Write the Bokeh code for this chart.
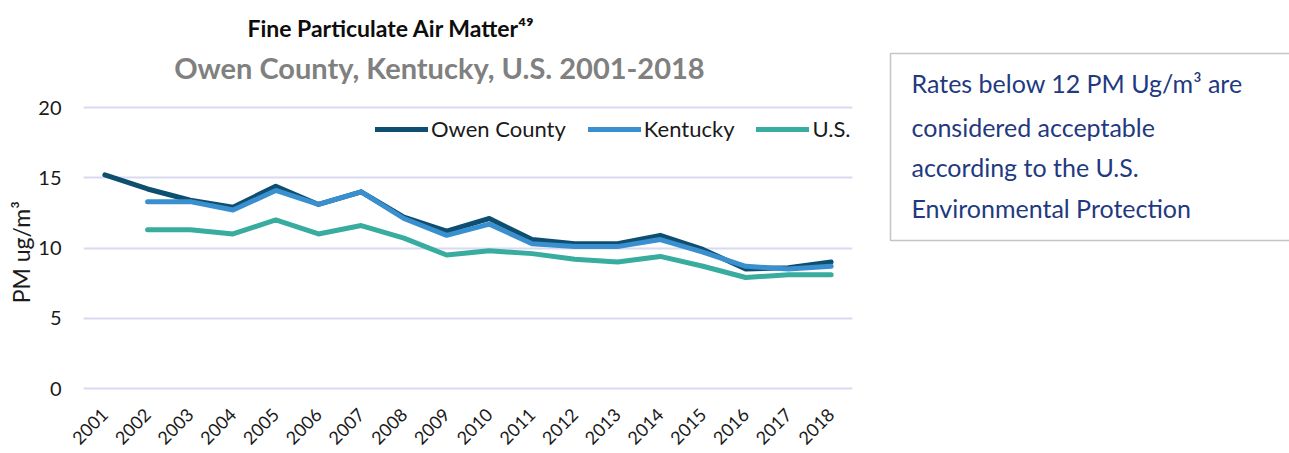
import numpy as np
from bokeh.plotting import figure
from bokeh.models import (FactorRange, Range1d, FixedTicker, Label,
                          Legend, LegendItem, ColumnDataSource, BoxAnnotation)
from bokeh.layouts import row
from bokeh.embed import file_html
from bokeh.resources import INLINE

years = [str(y) for y in range(2001, 2019)]
owen = [15.2, 14.2, 13.4, 12.9, 14.4, 13.1, 14.0, 12.2, 11.2, 12.1, 10.6, 10.3, 10.3, 10.9, 9.9, 8.5, 8.6, 9.0]
kentucky = [np.nan, 13.3, 13.3, 12.7, 14.1, 13.1, 14.0, 12.1, 10.9, 11.7, 10.3, 10.1, 10.1, 10.6, 9.7, 8.7, 8.5, 8.7]
us = [np.nan, 11.3, 11.3, 11.0, 12.0, 11.0, 11.6, 10.7, 9.5, 9.8, 9.6, 9.2, 9.0, 9.4, 8.7, 7.9, 8.1, 8.1]
y_ticks = [0, 5, 10, 15, 20]
series_names = ["Owen County", "Kentucky", "U.S."]
colors = ["#0E4E70", "#3A8FCE", "#38AD9F"]
title_text = "Fine Particulate Air Matter⁴⁹"
subtitle_text = "Owen County, Kentucky, U.S. 2001-2018"
y_title = "PM ug/m³"
box_lines = ["Rates below 12 PM Ug/m³ are", "considered acceptable",
             "according to the U.S.", "Environmental Protection"]

FONT = "Lato"
Y_LO, Y_HI = -0.142, 26.904   # frame spans from just below 0 up into the title area
H = 453

src = ColumnDataSource(dict(year=years, owen=np.array(owen), kentucky=np.array(kentucky), us=np.array(us)))

p = figure(x_range=FactorRange(*years, range_padding=0), y_range=Range1d(Y_LO, Y_HI),
           width=880, height=H, output_backend="svg", toolbar_location=None,
           min_border_left=83, min_border_right=28, min_border_top=10, min_border_bottom=63)
p.outline_line_color = None
p.background_fill_color = "white"

renderers = []
for col, c in zip(["owen", "kentucky", "us"], colors):
    r = p.line("year", col, source=src, line_color=c, line_width=5,
               line_cap="round", line_join="round")
    renderers.append(r)

p.xgrid.grid_line_color = None
p.ygrid.grid_line_color = "#D9D9F2"
p.ygrid.grid_line_width = 2
p.yaxis.ticker = FixedTicker(ticks=y_ticks)
p.yaxis.bounds = (0, 20)

for ax in (p.xaxis[0], p.yaxis[0]):
    ax.axis_line_color = None
    ax.major_tick_line_color = None
    ax.minor_tick_line_color = None
    ax.major_label_text_font = FONT
    ax.major_label_text_color = "#1a1a1a"

p.yaxis.major_label_text_font_size = "20px"
p.yaxis.major_label_standoff = 16
# trailing em spaces push the (centred, rotated) title down to the 0-20 band
p.yaxis.axis_label = y_title + "\u2003" * 6
p.yaxis.axis_label_text_font = FONT
p.yaxis.axis_label_text_font_style = "normal"
p.yaxis.axis_label_text_font_size = "23px"
p.yaxis.axis_label_text_color = "#1a1a1a"
p.yaxis.axis_label_standoff = 0

p.xaxis.major_label_text_font_size = "18px"
p.xaxis.major_label_orientation = np.pi / 4
p.xaxis.major_label_standoff = 15

legend = Legend(items=[LegendItem(label=n, renderers=[r]) for n, r in zip(series_names, renderers)],
                orientation="horizontal", location=(292, 248),
                glyph_width=53, glyph_height=20, label_standoff=3, spacing=22,
                label_text_font=FONT, label_text_font_size="22px", label_text_color="#1a1a1a",
                border_line_color=None, background_fill_alpha=0, padding=4, margin=0)
p.add_layout(legend)

p.add_layout(Label(x=7.2, y=25.65, text=title_text, text_align="center",
                   text_baseline="middle", text_font=FONT, text_font_style="bold",
                   text_font_size="23px", text_color="#0d0d0d"))
p.add_layout(Label(x=8.33, y=22.85, text=subtitle_text, text_align="center",
                   text_baseline="middle", text_font=FONT, text_font_style="bold",
                   text_font_size="29px", text_color="#808080"))

# note box: second figure sharing the same vertical frame
b = figure(x_range=Range1d(0, 409), y_range=Range1d(Y_LO, Y_HI), width=409, height=H,
           output_backend="svg", toolbar_location=None,
           min_border_left=0, min_border_right=0, min_border_top=10, min_border_bottom=63)
b.xaxis.visible = False
b.yaxis.visible = False
b.grid.visible = False
b.outline_line_color = None
b.add_layout(BoxAnnotation(left=10, right=420, top=23.84, bottom=10.53,
                           fill_alpha=0, line_color="#404040", line_width=1.5))
for t, yy in zip(box_lines, [21.71, 18.58, 15.73, 12.88]):
    b.add_layout(Label(x=31, y=yy, text=t, text_align="left", text_baseline="middle",
                       text_font=FONT, text_font_size="25px", text_color="#1F3A80"))

layout = row(p, b, spacing=0)
open("out.html", "w").write(file_html(layout, INLINE))
